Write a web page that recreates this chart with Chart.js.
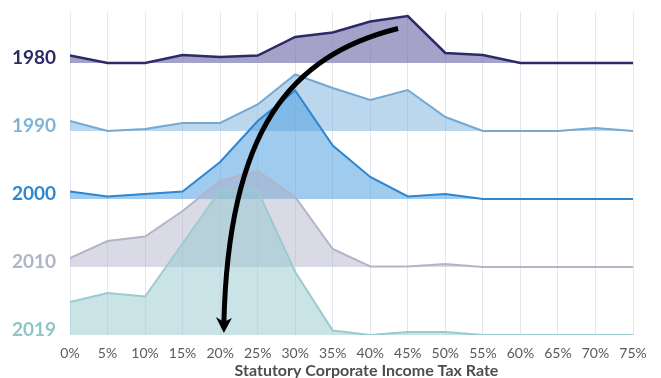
<!DOCTYPE html>
<html>
<head>
<meta charset="utf-8">
<script src="https://cdn.jsdelivr.net/npm/chart.js@4"></script>
<style>
  html, body { margin: 0; padding: 0; background: #fff; }
  #wrap { width: 661px; height: 378px; }
</style>
</head>
<body>
<div id="wrap"><canvas id="ridgeChart" width="661" height="378"></canvas></div>
<script>
// Tax rate categories (x axis) and ridge heights per year
const taxRates = [0, 5, 10, 15, 20, 25, 30, 35, 40, 45, 50, 55, 60, 65, 70, 75];
const years = ['1980', '1990', '2000', '2010', '2019'];

const values1980 = [7.5, 0, 0, 8, 6, 7.5, 26, 30.5, 41.5, 47, 10, 8, 0, 0, 0, 0];
const values1990 = [10, 0, 2, 8, 8, 26.5, 56.5, 43, 31, 41, 14, 0, 0, 0, 3, 0];
const values2000 = [7.5, 2.5, 5, 7.5, 37, 78, 108.5, 53.5, 22, 2.5, 5, 0, 0, 0, 0, 0];
const values2010 = [9, 26, 30.5, 56, 86, 96, 70, 18, 0.5, 0.5, 3, 0, 0, 0, 0, 0];
const values2019 = [33, 42, 38.5, 91.5, 144.5, 144.5, 63, 4.5, 0, 3, 3, 0, 0, 0, 0, 0];

// vertical offset of each ridge's baseline
const ridgeOffsets = [272, 204, 136, 68, 0];

const xAxisTitle = 'Statutory Corporate Income Tax Rate';

const lineColors = ['#2d2a68', '#74a9d3', '#2f86d0', '#b3b5c6', '#9ccbce'];
const fillColors = ['rgba(110,105,170,0.62)', 'rgba(120,175,220,0.5)', 'rgba(80,160,225,0.55)',
                    'rgba(170,172,200,0.45)', 'rgba(150,200,205,0.5)'];
const labelColors = ['#2d2a68', '#7fb3d9', '#2c87d0', '#b0b4c4', '#8fc4c8'];

// arrow annotation in data units (x: tax rate, y: chart units)
const arrowPath = [[43.7, 306.5], [29.3, 279.5], [21.1, 204.5], [20.5, 2]];

const allValues = [values1980, values1990, values2000, values2010, values2019];

const datasets = years.map((year, i) => ({
    label: year,
    data: taxRates.map((rate, j) => ({ x: rate, y: ridgeOffsets[i] + allValues[i][j] })),
    borderColor: lineColors[i],
    backgroundColor: fillColors[i],
    borderWidth: i === 0 ? 2.5 : 2,
    pointRadius: 0,
    tension: 0,
    fill: { value: ridgeOffsets[i] },
    order: 5 - i
}));

const arrowPlugin = {
    id: 'arrow',
    afterDatasetsDraw(chart) {
        const ctx = chart.ctx;
        const xs = chart.scales.x, ys = chart.scales.y;
        const p = arrowPath.map(([a, b]) => [xs.getPixelForValue(a), ys.getPixelForValue(b)]);
        ctx.save();
        ctx.strokeStyle = '#000';
        ctx.lineWidth = 5;
        ctx.beginPath();
        ctx.moveTo(p[0][0], p[0][1]);
        ctx.bezierCurveTo(p[1][0], p[1][1], p[2][0], p[2][1], p[3][0], p[3][1] - 10);
        ctx.stroke();
        // head
        const tipX = p[3][0], tipY = p[3][1];
        ctx.fillStyle = '#000';
        ctx.beginPath();
        ctx.moveTo(tipX, tipY);
        ctx.lineTo(tipX - 8, tipY - 16);
        ctx.lineTo(tipX, tipY - 11);
        ctx.lineTo(tipX + 8, tipY - 15);
        ctx.closePath();
        ctx.fill();
        ctx.restore();
    },
    afterDraw(chart) {
        // x axis title, sits a little right of centre like the original
        const ctx = chart.ctx;
        const area = chart.chartArea;
        ctx.save();
        ctx.font = 'bold 16px Lato';
        ctx.fillStyle = '#4d4d4d';
        ctx.textAlign = 'center';
        ctx.textBaseline = 'middle';
        ctx.fillText(xAxisTitle, (area.left + area.right) / 2 + 15, chart.height - 7);
        ctx.restore();
    }
};

new Chart(document.getElementById('ridgeChart'), {
    type: 'line',
    data: { datasets },
    plugins: [arrowPlugin],
    options: {
        responsive: false,
        animation: false,
        layout: { padding: { top: 12, right: 28, left: 0, bottom: 0 } },
        plugins: { legend: { display: false }, tooltip: { enabled: false } },
        scales: {
            x: {
                type: 'linear',
                min: 0,
                max: 75,
                border: { display: false },
                grid: { color: '#e6e6ee', lineWidth: 1, drawTicks: false },
                afterFit: scale => { scale.height = 43; },
                ticks: {
                    stepSize: 5,
                    padding: 10,
                    color: '#5a5a5a',
                    font: { family: 'Lato', size: 14 },
                    callback: v => v + '%'
                }
            },
            y: {
                min: 0,
                max: 323,
                border: { display: false },
                grid: { display: false, drawTicks: false },
                afterBuildTicks: scale => {
                    scale.ticks = ridgeOffsets.map(o => ({ value: o + 5 }));
                },
                afterFit: scale => {
                    scale.width = 70;
                    scale.paddingTop = 0;
                    scale.paddingBottom = 0;
                },
                ticks: {
                    padding: 14,
                    font: { family: 'Lato', size: 19, weight: 'bold' },
                    color: c => labelColors[c.index],
                    callback: (v, i) => years[i]
                }
            }
        }
    }
});
</script>
</body>
</html>
